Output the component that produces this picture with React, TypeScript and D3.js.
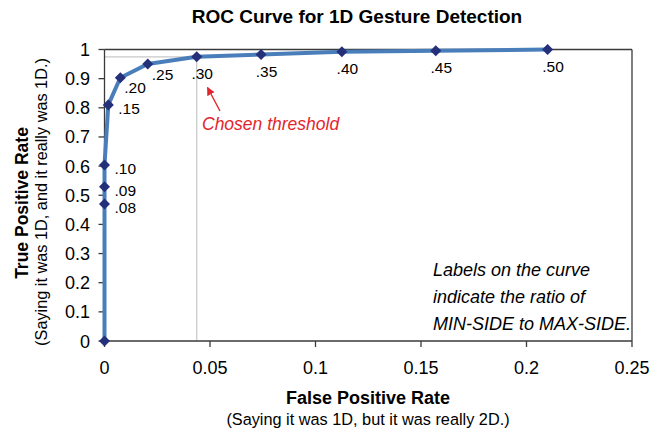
import React from "react";
import * as d3 from "d3";

const thresholdLabels = ["", ".08", ".09", ".10", ".15", ".20", ".25", ".30", ".35", ".40", ".45", ".50"];
const falsePositiveRate = [0, 0, 0, 0, 0.0018, 0.0075, 0.0205, 0.0437, 0.0742, 0.1125, 0.157, 0.21];
const truePositiveRate = [0, 0.47, 0.529, 0.604, 0.81, 0.903, 0.95, 0.975, 0.983, 0.992, 0.996, 1.0];
const xTicks = [0, 0.05, 0.1, 0.15, 0.2, 0.25];
const yTicks = [0, 0.1, 0.2, 0.3, 0.4, 0.5, 0.6, 0.7, 0.8, 0.9, 1];
const chosenIndex = 7;
const noteLines = ["Labels on the curve", "indicate the ratio of", "MIN-SIDE to MAX-SIDE."];

// label placement style per point (kept separate from data)
const placement = ["none", "right", "right", "right", "right", "belowRight", "belowRight", "below", "below", "below", "below", "below"];

const W = 664;
const H = 433;
const left = 104.5;
const right = 632;
const top = 49.5;
const bottom = 341;
const FONT = "'Liberation Sans', Arial, sans-serif";

export default function App() {
  const x = d3.scaleLinear().domain([0, 0.25]).range([left, right]);
  const y = d3.scaleLinear().domain([0, 1]).range([bottom, top]);
  const pts = falsePositiveRate.map((f, i) => [f, truePositiveRate[i]] as [number, number]);
  const line = d3
    .line<[number, number]>()
    .x((d) => x(d[0]))
    .y((d) => y(d[1]));
  const diamond = d3.symbol().type(d3.symbolDiamond2).size(78)()!;
  const cx = x(falsePositiveRate[chosenIndex]);
  const cy = y(truePositiveRate[chosenIndex]);
  const axisColor = "#3a3a3a";
  const red = "#e3262d";

  return (
    <svg width={W} height={H} style={{ position: "absolute", left: 0, top: 0, background: "#fff" }}>
      <rect x={0} y={0} width={W} height={H} fill="#fff" />
      <text x={357} y={23} textAnchor="middle" fontFamily={FONT} fontWeight="bold" fontSize={19} fill="#000">
        ROC Curve for 1D Gesture Detection
      </text>

      {/* crosshair for chosen threshold */}
      <line x1={cx} x2={cx} y1={bottom} y2={cy} stroke="#c8c8c8" strokeWidth={1.2} />
      <line x1={left} x2={cx} y1={cy} y2={cy} stroke="#c8c8c8" strokeWidth={1.2} />

      {/* plot frame */}
      <line x1={left} x2={right} y1={top} y2={top} stroke={axisColor} strokeWidth={1.3} />
      <line x1={right} x2={right} y1={top} y2={bottom} stroke={axisColor} strokeWidth={1.3} />
      <line x1={left} x2={left} y1={top} y2={bottom} stroke={axisColor} strokeWidth={1.3} />
      <line x1={left} x2={right} y1={bottom} y2={bottom} stroke={axisColor} strokeWidth={1.3} />

      {yTicks.map((t) => (
        <g key={"y" + t}>
          <line x1={left - 6} x2={left} y1={y(t)} y2={y(t)} stroke={axisColor} strokeWidth={1.3} />
          <text x={90} y={y(t) + 6.5} textAnchor="end" fontFamily={FONT} fontSize={18} fill="#000">
            {d3.format("~g")(t)}
          </text>
        </g>
      ))}
      {xTicks.map((t) => (
        <g key={"x" + t}>
          <line x1={x(t)} x2={x(t)} y1={bottom} y2={bottom + 6} stroke={axisColor} strokeWidth={1.3} />
          <text x={x(t)} y={374} textAnchor="middle" fontFamily={FONT} fontSize={18} fill="#000">
            {d3.format("~g")(t)}
          </text>
        </g>
      ))}

      <path d={line(pts) ?? ""} fill="none" stroke="#4a7ebb" strokeWidth={4} strokeLinejoin="round" />
      {pts.map((p, i) => (
        <path key={"m" + i} d={diamond} transform={`translate(${x(p[0])},${y(p[1])})`} fill="#24307a" />
      ))}
      {pts.map((p, i) => {
        const mode = placement[i];
        if (mode === "none") return null;
        const px = x(p[0]);
        const py = y(p[1]);
        let tx = px + 10;
        let ty = py + 9;
        let anchor: "start" | "middle" = "start";
        if (mode === "belowRight") {
          tx = px + 4;
          ty = py + 15.5;
        } else if (mode === "below") {
          tx = px + 5.5;
          ty = py + 22.5;
          anchor = "middle";
        }
        return (
          <text key={"l" + i} x={tx} y={ty} textAnchor={anchor} fontFamily={FONT} fontSize={15.5} fill="#000">
            {thresholdLabels[i]}
          </text>
        );
      })}

      {/* annotation */}
      <defs>
        <marker id="arrowhead" viewBox="0 0 10 10" refX="9" refY="5" markerWidth="6" markerHeight="6" orient="auto">
          <path d="M0,0 L10,5 L0,10 z" fill={red} />
        </marker>
      </defs>
      <line x1={220} y1={111} x2={207.5} y2={87.5} stroke={red} strokeWidth={1.4} markerEnd="url(#arrowhead)" />
      <text x={202} y={130} fontFamily={FONT} fontStyle="italic" fontSize={17.5} fill={red}>
        Chosen threshold
      </text>

      {noteLines.map((s, i) => (
        <text key={"n" + i} x={433} y={276 + i * 27} fontFamily={FONT} fontStyle="italic" fontSize={18} fill="#000">
          {s}
        </text>
      ))}

      <text x={368} y={404} textAnchor="middle" fontFamily={FONT} fontWeight="bold" fontSize={18} fill="#000">
        False Positive Rate
      </text>
      <text x={368} y={425} textAnchor="middle" fontFamily={FONT} fontSize={16.3} fill="#000">
        (Saying it was 1D, but it was really 2D.)
      </text>
      <text transform="translate(28,203) rotate(-90)" textAnchor="middle" fontFamily={FONT} fontWeight="bold" fontSize={17.5} fill="#000">
        True Positive Rate
      </text>
      <text transform="translate(47,202) rotate(-90)" textAnchor="middle" fontFamily={FONT} fontSize={16.3} fill="#000">
        (Saying it was 1D, and it really was 1D.)
      </text>
    </svg>
  );
}
